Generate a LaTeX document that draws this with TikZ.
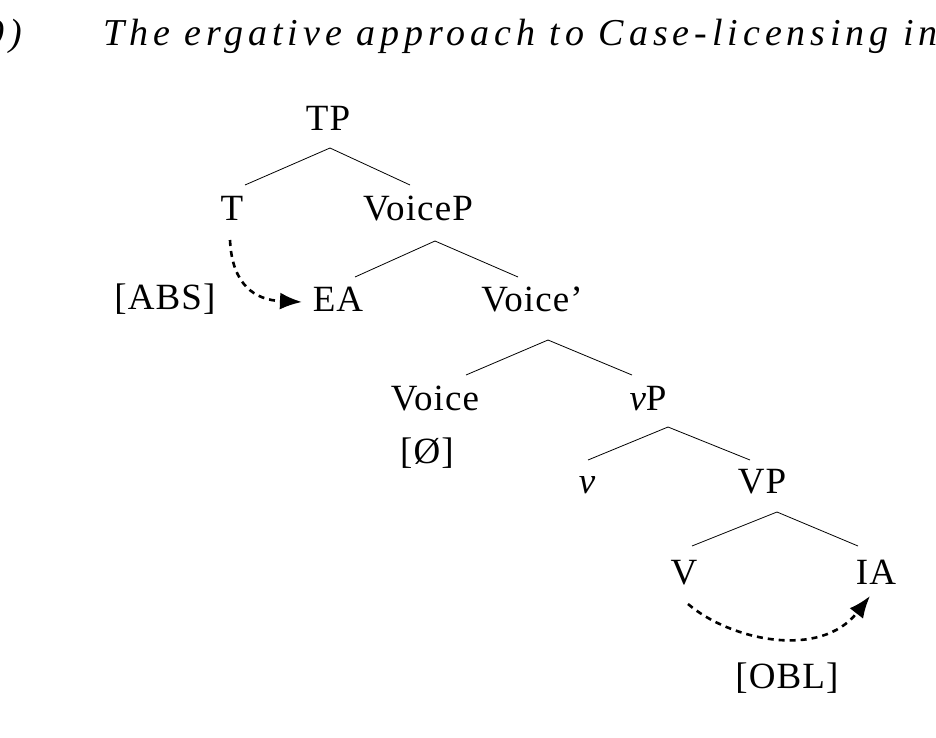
\documentclass[tikz,border=0pt]{standalone}
\usepackage{fontspec}
\setmainfont{Liberation Serif}
\usetikzlibrary{arrows.meta}
\begin{document}
\begin{tikzpicture}[x=1pt,y=-1pt,
  lab/.style={font=\fontsize{37}{40}\selectfont\addfontfeature{LetterSpace=3}, inner sep=0pt, anchor=base},
  ttl/.style={font=\fontsize{38}{44}\selectfont\itshape\addfontfeature{LetterSpace=13}, inner sep=0pt},
  br/.style={line width=0.8pt},
  dep/.style={line width=2.6pt, dash pattern=on 6pt off 5pt, -{Latex[length=22pt,width=17pt]}}]
\useasboundingbox (0,0) rectangle (936,737);
\node[ttl, anchor=base east] (num) at (22,45) {9)};
\node[ttl, anchor=base west] (title) at (103,45) {The ergative approach to Case-licensing in};
\node[lab] (TP) at (328,130) {TP};
\node[lab] (T) at (232,220) {T};
\node[lab] (VoiceP) at (418,220) {VoiceP};
\node[lab] (ABS) at (165,309) {[ABS]};
\node[lab] (EA) at (338,311) {EA};
\node[lab] (Voicep) at (532,311) {Voice'};
\node[lab] (Voice) at (435,410) {Voice};
\node[lab] (vP) at (648,410) {\itshape v\upshape P};
\node[lab] (null) at (427,463) {[Ø]};
\node[lab] (v) at (587,493) {\itshape v};
\node[lab] (VP) at (762,493) {VP};
\node[lab] (V) at (684,584) {V};
\node[lab] (IA) at (876,584) {IA};
\node[lab] (OBL) at (787,688) {[OBL]};
\coordinate (a1) at (330,148); \draw[br] (a1) -- (245,185); \draw[br] (a1) -- (410,185);
\coordinate (a2) at (435,241); \draw[br] (a2) -- (355,277); \draw[br] (a2) -- (518,277);
\coordinate (a3) at (548,340); \draw[br] (a3) -- (466,375); \draw[br] (a3) -- (632,375);
\coordinate (a4) at (668,427); \draw[br] (a4) -- (588,460); \draw[br] (a4) -- (750,460);
\coordinate (a5) at (777,512); \draw[br] (a5) -- (692,546); \draw[br] (a5) -- (858,546);
\coordinate (s1) at (230,240); \coordinate (e1) at (302,302);
\draw[dep] (s1) .. controls (232,285) and (255,300) .. (e1);
\coordinate (s2) at (688,604); \coordinate (e2) at (870,596);
\draw[dep] (s2) .. controls (730,640) and (820,660) .. (e2);
\end{tikzpicture}
\end{document}
